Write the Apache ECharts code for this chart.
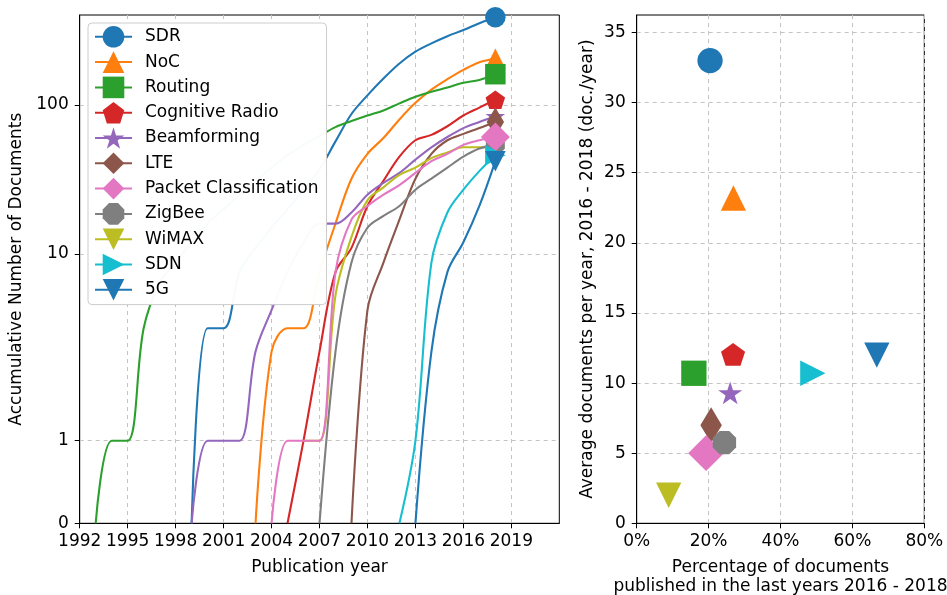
<!DOCTYPE html>
<html><head><meta charset="utf-8">
<script src="https://cdn.jsdelivr.net/npm/echarts@6/dist/echarts.min.js"></script>
<style>html,body{margin:0;padding:0;background:#fff}#c{width:947px;height:595px}</style>
</head><body><div id="c"></div>
<script>
// ---------- data ----------
const years = [1993,1994,1995,1996,1997,1998,1999,2000,2001,2002,2003,2004,2005,2006,2007,2008,2009,2010,2011,2012,2013,2014,2015,2016,2017,2018];
const names = ['SDR','NoC','Routing','Cognitive Radio','Beamforming','LTE','Packet Classification','ZigBee','WiMAX','SDN','5G'];
const _ = null;
const sdr       = [_,_,_,_,_,_,0,4,4,8,11,15,20,27,37,57,87,119,161,211,261,303,345,385,435,484];
const noc       = [_,_,_,_,_,_,_,_,_,_,0,3,4,4,8,16,32,47,60,80,104,132,159,188,216,230];
const routing   = [0,1,1,4,7,9,12,16,20,25,31,38,46,54,62,71,78,85,92,103,116,127,137,149,157,174];
const cogRadio  = [_,_,_,_,_,_,_,_,_,_,_,_,0,1,3,8,11,21,31,45,58,63,72,85,96,110];
const beamform  = [_,_,_,_,_,_,0,1,1,1,3,5,8,12,16,16,19,25,30,35,43,52,61,70,77,84];
const lte       = [_,_,_,_,_,_,_,_,_,_,_,_,_,_,_,_,0,5,9,17,32,47,58,64,70,77];
const packetCls = [_,_,_,_,_,_,_,_,_,_,_,0,1,1,1,8,17,21,25,29,35,42,47,54,58,61];
const zigbee    = [_,_,_,_,_,_,_,_,_,_,_,_,_,_,0,3,9,15,18,21,27,32,38,45,51,54];
const wimax     = [_,_,_,_,_,_,_,_,_,_,_,_,_,1,1,6,13,23,28,34,38,44,48,52,52,52];
const sdn       = [_,_,_,_,_,_,_,_,_,_,_,_,_,_,_,_,_,_,_,0,1,9,19,27,36,46];
const fiveG     = [_,_,_,_,_,_,_,_,_,_,_,_,_,_,_,_,_,_,_,_,0,3,8,12,21,42];
const cumulative = [sdr,noc,routing,cogRadio,beamform,lte,packetCls,zigbee,wimax,sdn,fiveG];

// right panel: share of docs published 2016-2018 (%), avg docs/year 2016-2018
const recentPct = [20.4,26.9,15.9,26.8,26.0,20.7,19.3,24.4,8.9,49.0,66.8];
const avgPerYear = [33.0,23.2,10.7,12.05,9.3,7.0,5.0,5.75,2.0,10.7,12.0];

// tick labels
const xTicksLeft = [1992,1995,1998,2001,2004,2007,2010,2013,2016,2019];
const yTicksLeft = [0,1,10,100];
const xTicksRight = [0,20,40,60,80];
const yTicksRight = [0,5,10,15,20,25,30,35];

// ---------- styles ----------
const colors = ['#1f77b4','#ff7f0e','#2ca02c','#d62728','#9467bd','#8c564b','#e377c2','#7f7f7f','#bcbd22','#17becf','#1f77b4'];
const drawOrder = [0,1,2,3,4,5,8,7,6,9,10]; // stacking rank of each series
function poly(n, rot, inner){
  const pts=[]; const m = inner ? 2*n : n;
  for(let k=0;k<m;k++){
    const a=(rot + k*360/m)*Math.PI/180; const r = (inner && k%2) ? inner : 1;
    pts.push((r*Math.cos(a)).toFixed(4)+','+(r*Math.sin(a)).toFixed(4));
  }
  return 'path://M'+pts.join(' L')+' Z';
}
const shapes = [
  ['circle',[1,1]],
  ['triangle',[1,1]],
  ['rect',[1,1]],
  [poly(5,-90),[0.951,0.905]],
  [poly(5,-90,0.381966),[0.951,0.905]],
  ['path://M0,-1 L0.6,0 L0,1 L-0.6,0 Z',[0.849,1.414]],
  ['diamond',[1.414,1.414]],
  [poly(8,22.5),[0.924,0.924]],
  ['path://M-1,-1 L1,-1 L0,1 Z',[1,1]],
  ['path://M-1,-1 L1,0 L-1,1 Z',[1,1]],
  ['path://M-1,-1 L1,-1 L0,1 Z',[1,1]]
];
const MS_LEFT = 20.5, MS_RIGHT = 25.3;
const FONT = 'DejaVu Sans', FS = 17;

// symlog-like scale of the left panel
const LIN = 82.6, DEC = [186.7, 149, 128], TOP = 508.3;
function T(v){
  if (v <= 1) return v*LIN;
  const lv = Math.log10(v); let t = LIN;
  for (let k=0;k<DEC.length;k++){
    if (lv <= k+1 || k === DEC.length-1) return t + (lv-k)*DEC[k];
    t += DEC[k];
  }
}
const yTickPos = yTicksLeft.map(T);

const gridLine = {show:true, lineStyle:{color:'#c4c4c4', type:[4,4], width:1}};
const axLine = {show:true, onZero:false, lineStyle:{color:'#000', width:1}};
const lbl = {color:'#000', fontSize:FS, fontFamily:FONT};

const series = [];
names.forEach((n,i)=>{
  const pts = [];
  years.forEach((y,j)=>{ const v = cumulative[i][j]; if (v!=null) pts.push([y, T(v)]); });
  const data = pts.map((p,k)=> k===pts.length-1 ? {value:p} : {value:p, symbol:'none'});
  series.push({
    name:n, type:'line', xAxisIndex:0, yAxisIndex:0, data,
    smooth:0.35, symbol:shapes[i][0],
    symbolSize:[shapes[i][1][0]*MS_LEFT, shapes[i][1][1]*MS_LEFT],
    lineStyle:{color:colors[i], width:2.1}, itemStyle:{color:colors[i]},
    emphasis:{disabled:true}, animation:false, z:2, zlevel:0,
    z2: drawOrder[i]
  });
});
names.forEach((n,i)=>{
  series.push({
    name:n+' ', type:'scatter', xAxisIndex:1, yAxisIndex:1,
    data:[[recentPct[i], avgPerYear[i]]],
    symbol:shapes[i][0],
    symbolSize:[shapes[i][1][0]*MS_RIGHT, shapes[i][1][1]*MS_RIGHT],
    itemStyle:{color:colors[i], opacity:1}, emphasis:{disabled:true}, animation:false
  });
});
// re-order left line series by stacking rank (legend order kept via legend.data)
const lineSeries = series.slice(0, names.length);
const ordered = drawOrder.map((r,i)=>({r, s:lineSeries[i]})).sort((a,b)=>a.r-b.r).map(o=>o.s);
const allSeries = ordered.concat(series.slice(names.length));

const chart = echarts.init(document.getElementById('c'), null, {renderer:'canvas'});
chart.setOption({
  backgroundColor:'#fff',
  animation:false,
  textStyle:{fontFamily:FONT},
  grid:[
    {left:79.7, right:947-559.3, top:15, bottom:595-523.3, show:true, borderColor:'#000', borderWidth:1, containLabel:false, outerBoundsMode:'none'},
    {left:636.7, right:947-924.3, top:15, bottom:595-523.3, show:true, borderColor:'#000', borderWidth:1, containLabel:false, outerBoundsMode:'none'}
  ],
  legend:{
    data:names, orient:'vertical', left:88, top:23,
    itemWidth:37, itemHeight:27, itemGap:3.7,
    padding:[3,8,4,6],
    backgroundColor:'rgba(255,255,255,0.97)', borderColor:'#cccccc', borderWidth:1, borderRadius:4,
    textStyle:{color:'#000', fontSize:FS, fontFamily:FONT, padding:[0,0,0,8]},
    selectedMode:false
  },
  xAxis:[
    {gridIndex:0, type:'value', min:1992, max:2022, interval:3,
     axisLine:axLine, axisTick:{show:true, length:5, lineStyle:{color:'#000'}, customValues:xTicksLeft},
     axisLabel:Object.assign({margin:10, customValues:xTicksLeft, formatter:v=>String(v)}, lbl),
     splitLine:gridLine,
     name:'Publication year', nameLocation:'middle', nameGap:36, nameTextStyle:lbl},
    {gridIndex:1, type:'value', min:0, max:80, interval:20,
     axisLine:axLine, axisTick:{show:true, length:5, lineStyle:{color:'#000'}, customValues:xTicksRight},
     axisLabel:Object.assign({margin:10, customValues:xTicksRight, formatter:v=>v+'%'}, lbl),
     splitLine:gridLine,
     name:'Percentage of documents\npublished in the last years 2016 - 2018', nameLocation:'middle', nameGap:34.5,
     nameTextStyle:Object.assign({lineHeight:19}, lbl)}
  ],
  yAxis:[
    {gridIndex:0, type:'value', min:0, max:TOP,
     axisLine:axLine, axisTick:{show:true, length:5, lineStyle:{color:'#000'}, customValues:yTickPos},
     axisLabel:Object.assign({margin:11, customValues:yTickPos,
       formatter:v=>{ const k = yTickPos.findIndex(p=>Math.abs(p-v)<0.01); return k>=0 ? String(yTicksLeft[k]) : ''; }}, lbl),
     splitLine:gridLine,
     name:'Accumulative Number of Documents', nameLocation:'middle', nameGap:46, nameRotate:90, nameTextStyle:lbl},
    {gridIndex:1, type:'value', min:0, max:36.25, interval:5,
     axisLine:axLine, axisTick:{show:true, length:5, lineStyle:{color:'#000'}, customValues:yTicksRight},
     axisLabel:Object.assign({margin:11, customValues:yTicksRight}, lbl),
     splitLine:gridLine,
     name:'Average documents per year, 2016 - 2018 (doc./year)', nameLocation:'middle', nameGap:41, nameRotate:90, nameTextStyle:lbl}
  ],
  series: allSeries
});
</script></body></html>
